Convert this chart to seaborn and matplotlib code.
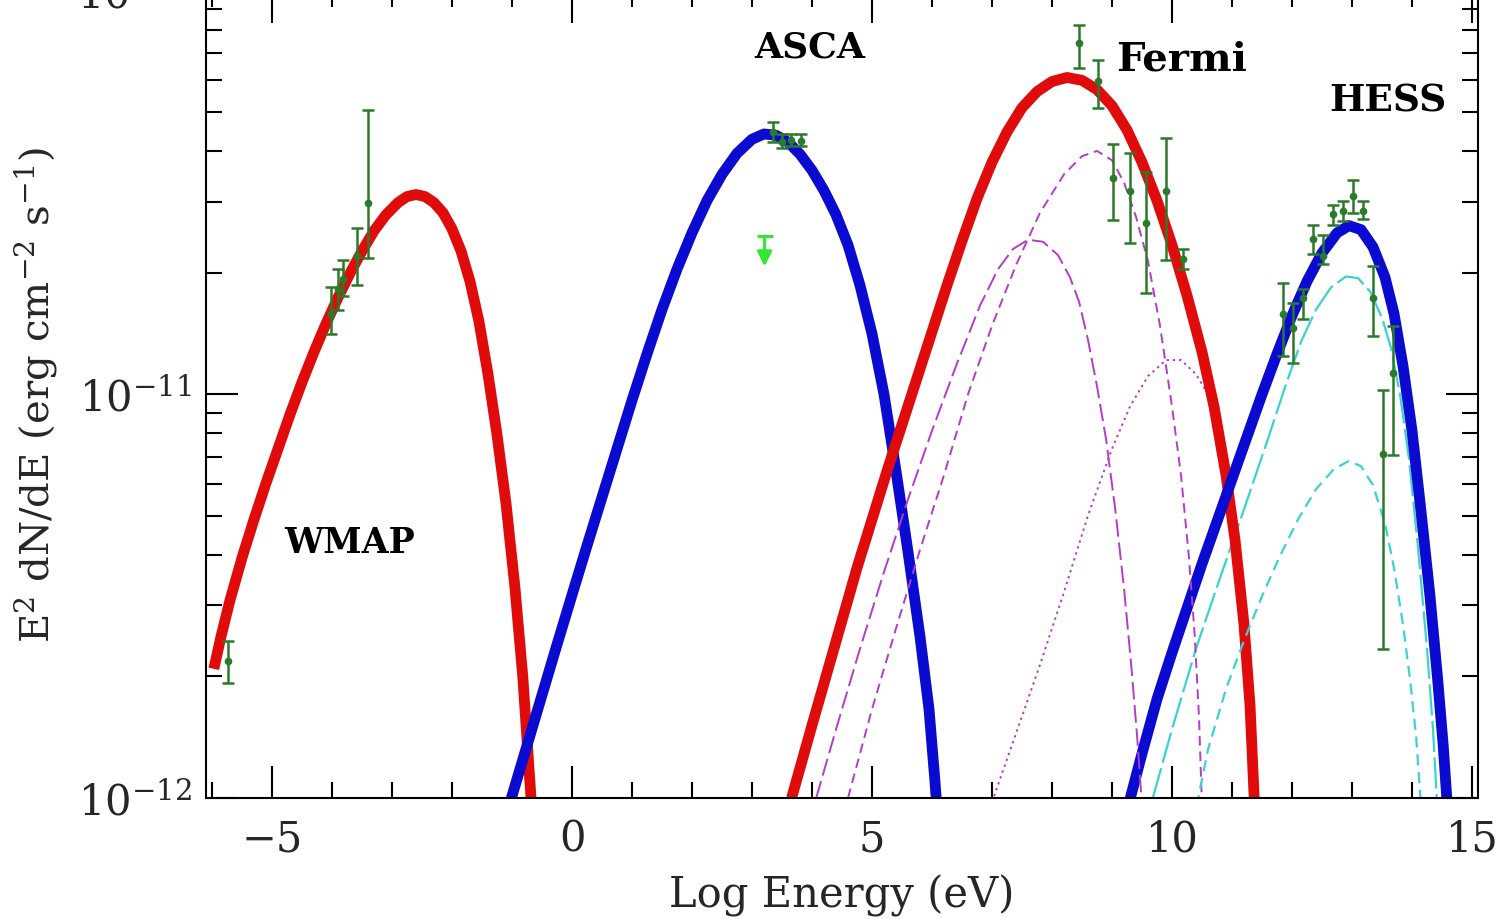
import numpy as np
import matplotlib
matplotlib.use("Agg")
import matplotlib.pyplot as plt
import seaborn as sns
from matplotlib.ticker import MultipleLocator, LogLocator, NullFormatter

# ---------------- data (x = log10 E [eV], values = log10 flux) ----------------
SYN1_X = [-5.97, -5.85, -5.7, -5.5, -5.3, -5.1, -4.9, -4.7, -4.5, -4.3, -4.1, -3.9, -3.7,
          -3.5, -3.3, -3.1, -2.9, -2.75, -2.6, -2.45, -2.3, -2.15, -2.0, -1.85, -1.7,
          -1.55, -1.4, -1.25, -1.1, -0.95, -0.82, -0.72, -0.66]
SYN1_L = [-11.68, -11.60, -11.51, -11.405, -11.31, -11.22, -11.135, -11.05, -10.97, -10.895,
          -10.825, -10.76, -10.70, -10.645, -10.595, -10.555, -10.525, -10.51, -10.505,
          -10.51, -10.525, -10.55, -10.59, -10.645, -10.72, -10.82, -10.95, -11.1, -11.27,
          -11.48, -11.70, -11.92, -12.05]

SYN2_X = [-1.05, -0.75, -0.5, -0.25, 0.0, 0.25, 0.5, 0.75, 1.0, 1.25, 1.5, 1.75, 2.0, 2.25,
          2.5, 2.75, 3.0, 3.2, 3.4, 3.6, 3.8, 4.0, 4.2, 4.4, 4.6, 4.8, 5.0, 5.2, 5.4, 5.6,
          5.8, 5.95, 6.05, 6.12]
SYN2_L = [-12.02, -11.87, -11.745, -11.62, -11.497, -11.375, -11.255, -11.135, -11.015,
          -10.90, -10.79, -10.69, -10.60, -10.52, -10.455, -10.403, -10.368, -10.355,
          -10.358, -10.375, -10.405, -10.445, -10.495, -10.555, -10.63, -10.73, -10.85,
          -11.0, -11.19, -11.39, -11.6, -11.78, -11.96, -12.1]

IC1_X = [3.66, 4.0, 4.25, 4.5, 4.75, 5.0, 5.25, 5.5, 5.75, 6.0, 6.25, 6.5, 6.75, 7.0, 7.25,
         7.5, 7.75, 8.0, 8.25, 8.5, 8.75, 9.0, 9.25, 9.5, 9.75, 10.0, 10.25, 10.5, 10.7,
         10.9, 11.05, 11.2, 11.3, 11.37, 11.4]
IC1_L = [-12.0, -11.82, -11.69, -11.56, -11.43, -11.31, -11.19, -11.075, -10.96, -10.845,
         -10.73, -10.62, -10.515, -10.425, -10.35, -10.29, -10.25, -10.225, -10.215,
         -10.222, -10.245, -10.285, -10.345, -10.425, -10.52, -10.63, -10.755, -10.895,
         -11.03, -11.2, -11.36, -11.57, -11.77, -12.0, -12.1]

IC2_X = [9.27, 9.5, 9.75, 10.0, 10.25, 10.5, 10.75, 11.0, 11.25, 11.5, 11.75, 12.0, 12.25,
         12.5, 12.75, 12.95, 13.15, 13.35, 13.55, 13.7, 13.85, 14.0, 14.15, 14.3, 14.43,
         14.52, 14.58, 14.62]
IC2_L = [-12.02, -11.89, -11.755, -11.64, -11.53, -11.42, -11.315, -11.21, -11.105, -11.0,
         -10.9, -10.805, -10.72, -10.65, -10.6, -10.582, -10.592, -10.635, -10.71, -10.8,
         -10.93, -11.09, -11.29, -11.5, -11.71, -11.87, -12.0, -12.12]

MAG_A_X = [4.07, 4.4, 4.8, 5.2, 5.6, 6.0, 6.4, 6.8, 7.1, 7.35, 7.6, 7.85, 8.1, 8.3, 8.45,
           8.6, 8.75, 8.9, 9.05, 9.2, 9.32, 9.42, 9.5]
MAG_A_L = [-12.0, -11.83, -11.63, -11.44, -11.26, -11.09, -10.93, -10.78, -10.69, -10.64,
           -10.617, -10.622, -10.655, -10.71, -10.77, -10.865, -10.98, -11.11, -11.28,
           -11.48, -11.67, -11.85, -12.02]

MAG_B_X = [4.6, 5.0, 5.4, 5.8, 6.2, 6.6, 7.0, 7.4, 7.8, 8.2, 8.5, 8.75, 9.0, 9.2, 9.4, 9.6,
           9.8, 10.0, 10.15, 10.28, 10.38, 10.45, 10.5]
MAG_B_L = [-12.0, -11.78, -11.58, -11.385, -11.2, -11.0, -10.83, -10.68, -10.55, -10.455,
           -10.41, -10.397, -10.42, -10.475, -10.56, -10.67, -10.83, -11.03, -11.2, -11.4,
           -11.6, -11.8, -12.02]

MAG_D_X = [7.0, 7.4, 7.8, 8.2, 8.6, 9.0, 9.3, 9.6, 9.9, 10.15, 10.4, 10.6, 10.85, 11.05,
           11.2, 11.3, 11.36]
MAG_D_L = [-12.01, -11.84, -11.67, -11.49, -11.3, -11.135, -11.03, -10.955, -10.915,
           -10.915, -10.95, -11.0, -11.19, -11.4, -11.6, -11.8, -12.02]

CYA_A_X = [9.68, 10.0, 10.4, 10.8, 11.2, 11.6, 11.9, 12.15, 12.4, 12.65, 12.9, 13.1, 13.3,
           13.5, 13.65, 13.8, 13.95, 14.1, 14.25, 14.35, 14.42]
CYA_A_L = [-12.0, -11.83, -11.63, -11.455, -11.285, -11.11, -10.975, -10.87, -10.79,
           -10.735, -10.708, -10.712, -10.745, -10.81, -10.885, -11.0, -11.16, -11.38,
           -11.63, -11.83, -12.02]

CYA_B_X = [10.41, 10.6, 10.9, 11.2, 11.5, 11.8, 12.1, 12.4, 12.7, 12.95, 13.15, 13.35,
           13.55, 13.7, 13.85, 13.97, 14.07, 14.15]
CYA_B_L = [-12.02, -11.88, -11.73, -11.61, -11.5, -11.4, -11.31, -11.235, -11.185, -11.165,
           -11.178, -11.225, -11.32, -11.43, -11.57, -11.71, -11.85, -12.02]

# measured points: x, log10 value, log10 lower end, log10 upper end
WMAP_X  = [-5.74, -4.01, -3.90, -3.82, -3.59, -3.40]
WMAP_L  = [-11.66, -10.802, -10.74, -10.715, -10.658, -10.525]
WMAP_LO = [-11.714, -10.85, -10.79, -10.757, -10.728, -10.661]
WMAP_HI = [-11.611, -10.735, -10.69, -10.666, -10.587, -10.295]

ASCA_X  = [3.35, 3.50, 3.65, 3.82]
ASCA_L  = [-10.350, -10.375, -10.370, -10.372]
ASCA_LO = [-10.375, -10.39, -10.385, -10.385]
ASCA_HI = [-10.325, -10.355, -10.355, -10.355]

UL_X = [3.21]
UL_L = [-10.608]

FERMI_X  = [8.45, 8.77, 9.02, 9.30, 9.57, 9.90, 10.18]
FERMI_L  = [-10.130, -10.224, -10.464, -10.497, -10.575, -10.497, -10.665]
FERMI_LO = [-10.191, -10.29, -10.567, -10.624, -10.748, -10.666, -10.69]
FERMI_HI = [-10.084, -10.171, -10.381, -10.402, -10.448, -10.365, -10.64]

HESS_X  = [11.85, 12.02, 12.18, 12.35, 12.52, 12.68, 12.85, 13.02, 13.18, 13.35, 13.51, 13.68]
HESS_L  = [-10.802, -10.835, -10.761, -10.616, -10.658, -10.554, -10.546, -10.509, -10.546,
           -10.761, -11.149, -10.946]
HESS_LO = [-10.906, -10.922, -10.814, -10.653, -10.678, -10.58, -10.57, -10.55, -10.565,
           -10.856, -11.632, -11.15]
HESS_HI = [-10.724, -10.773, -10.74, -10.58, -10.604, -10.53, -10.52, -10.468, -10.52,
           -10.683, -10.988, -10.83]

LABELS = ["WMAP", "ASCA", "Fermi", "HESS"]
LABEL_X = [-3.7, 3.96, 10.16, 13.59]
LABEL_L = [-11.366, -10.139, -10.168, -10.27]

# ---------------- styling ----------------
sns.set_style("ticks")
plt.rcParams['font.family'] = ['DejaVu Serif']
plt.rcParams['mathtext.fontset'] = 'dejavuserif'

RED = "#e00c0c"
BLUE = "#0a0ad0"
MAG = "#b43cc8"
CYAN = "#3cd2d2"
GREEN = "#2a7a2a"
LGREEN = "#33e633"

fig = plt.figure(figsize=(15.03, 9.2), dpi=100)
W, H = 1503.0, 920.0
ax = fig.add_axes([206 / W, 121 / H, (1478 - 206) / W, (928.3 - 121) / H])
ax.set_yscale("log")


def P(v):
    return 10.0 ** np.asarray(v, dtype=float)


def curve(xs, ls, color, lw, style="-", z=2):
    sns.lineplot(x=xs, y=P(ls), ax=ax, color=color, lw=lw, linestyle=style,
                 sort=False, estimator=None, zorder=z, legend=False,
                 solid_capstyle="butt", dash_capstyle="butt", solid_joinstyle="round")


# thin components under thick lines
curve(MAG_D_X, MAG_D_L, MAG, 1.4, (0, (1.2, 2.0)), z=1.5)
curve(CYA_A_X, CYA_A_L, CYAN, 1.6, (0, (14, 2.5)), z=1.5)
# thick model curves
curve(SYN1_X, SYN1_L, RED, 7.8)
curve(SYN2_X, SYN2_L, BLUE, 7.8)
curve(IC1_X, IC1_L, RED, 7.8)
curve(IC2_X, IC2_L, BLUE, 7.8)
# thin components over thick lines
curve(MAG_A_X, MAG_A_L, MAG, 1.4, (0, (9, 3)), z=2.5)
curve(MAG_B_X, MAG_B_L, MAG, 1.4, (0, (5, 3)), z=2.5)
curve(CYA_B_X, CYA_B_L, CYAN, 1.6, (0, (5, 3)), z=2.5)


def points(xs, ls, lo, hi):
    y = P(ls)
    err = np.vstack([y - P(lo), P(hi) - y])
    ax.errorbar(xs, y, yerr=err, fmt="o", color=GREEN, ms=4.5, elinewidth=1.8,
                capsize=4, capthick=1.8, zorder=4)


points(WMAP_X, WMAP_L, WMAP_LO, WMAP_HI)
points(ASCA_X, ASCA_L, ASCA_LO, ASCA_HI)
points(FERMI_X, FERMI_L, FERMI_LO, FERMI_HI)
points(HESS_X, HESS_L, HESS_LO, HESS_HI)

# upper limit
for ux, ul in zip(UL_X, UL_L):
    ax.plot([ux], [P(ul)], marker="_", ms=12, mew=2.2, color=LGREEN, zorder=4)
    ax.annotate("", xy=(ux, P(ul - 0.075)), xytext=(ux, P(ul)),
                arrowprops=dict(arrowstyle="-|>", color=LGREEN, lw=2.2,
                                mutation_scale=22, shrinkA=0, shrinkB=0), zorder=4)

LABEL_SIZE = [25, 26, 29, 27]
for t, lx, ll, fs in zip(LABELS, LABEL_X, LABEL_L, LABEL_SIZE):
    ax.text(lx, P(ll), t, ha="center", va="center", fontsize=fs, fontweight="bold",
            color="black")

ax.set_xlim(-6.1, 15.1)
ax.set_ylim(1e-12, 1e-10)
ax.xaxis.set_major_locator(MultipleLocator(5))
ax.xaxis.set_minor_locator(MultipleLocator(1))
ax.yaxis.set_major_locator(LogLocator(base=10))
ax.yaxis.set_minor_locator(LogLocator(base=10, subs=np.arange(2, 10)))
ax.yaxis.set_minor_formatter(NullFormatter())

ax.tick_params(which="both", direction="in", top=True, right=True, width=1.5,
               color="black")
ax.tick_params(which="major", length=23)
ax.tick_params(which="minor", length=11.5)
ax.tick_params(axis="x", which="major", labelsize=30, pad=14)
ax.tick_params(axis="y", which="major", labelsize=30, pad=10)
for s in ax.spines.values():
    s.set_linewidth(1.5)
    s.set_color("black")

ax.set_xlabel("Log Energy (eV)", fontsize=30, labelpad=10)
ax.set_ylabel(r"E$^{2}$ dN/dE (erg cm$^{-2}$ s$^{-1}$)", fontsize=29, labelpad=13)

fig.savefig("out.png", dpi=100)
